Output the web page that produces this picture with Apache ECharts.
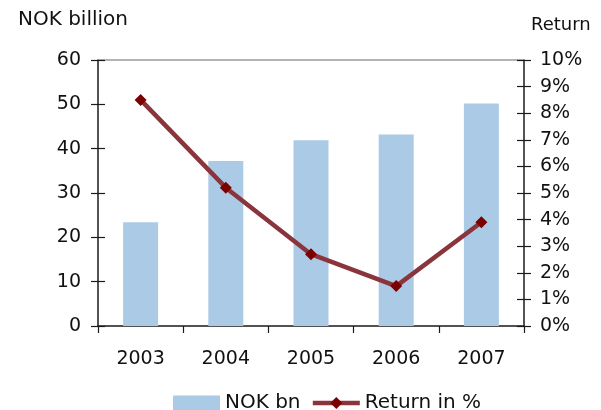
<!DOCTYPE html>
<html>
<head>
<meta charset="utf-8">
<script src="https://cdn.jsdelivr.net/npm/echarts@6/dist/echarts.min.js"></script>
<style>
  html, body { margin: 0; padding: 0; background: #fff; }
  #chart { width: 601px; height: 410px; }
</style>
</head>
<body>
<div id="chart"></div>
<script>
// Annual figures
const years = ['2003', '2004', '2005', '2006', '2007'];
const nokBn = [23.4, 37.2, 41.9, 43.2, 50.2];
const returnPct = [8.5, 5.2, 2.7, 1.5, 3.9];
const leftTicks = { min: 0, max: 60, interval: 10 };
const rightTicks = { min: 0, max: 10, interval: 1 };

const FONT = 'DejaVu Sans';
const TXT = '#111';
const AXIS = '#1a1a1a';
const BAR_COLOR = '#abcae6';
const LINE_COLOR = '#8a343b';
const MARKER_COLOR = '#7d0000';

const chart = echarts.init(document.getElementById('chart'), null, { renderer: 'canvas' });

// Value axis; a second copy with inside ticks gives the crossing tick marks
function valueAxis(pos, ticks, inside, withLabels, fmt) {
  return {
    type: 'value',
    position: pos,
    min: ticks.min, max: ticks.max, interval: ticks.interval,
    axisLine: { show: !inside, onZero: false, lineStyle: { color: AXIS, width: 1.5 } },
    axisTick: { show: true, inside: inside, length: 7, lineStyle: { color: AXIS, width: 1.2 } },
    splitLine: { show: false },
    axisLabel: withLabels ? {
      show: true, margin: pos === 'left' ? 17 : 16,
      fontFamily: FONT, fontSize: 19, color: TXT, formatter: fmt
    } : { show: false }
  };
}

chart.setOption({
  animation: false,
  backgroundColor: '#fff',
  grid: { left: 98, right: 77, top: 60, bottom: 84, containLabel: false },
  graphic: [
    { type: 'text', left: 18, top: 10,
      style: { text: 'NOK billion', fontFamily: FONT, fontSize: 20, fill: TXT } },
    { type: 'text', left: 531, top: 16,
      style: { text: 'Return', fontFamily: FONT, fontSize: 18, fill: TXT } }
  ],
  legend: {
    left: 168, top: 388,
    itemWidth: 47, itemHeight: 15, itemGap: 10,
    textStyle: { fontFamily: FONT, fontSize: 20, color: TXT },
    data: [
      { name: 'NOK bn', icon: 'rect', itemStyle: { color: BAR_COLOR } },
      { name: 'Return in %', lineStyle: { color: LINE_COLOR, width: 4.5 },
        itemStyle: { color: MARKER_COLOR } }
    ]
  },
  xAxis: [
    {
      type: 'category', position: 'bottom', data: years, boundaryGap: true,
      axisLine: { onZero: false, lineStyle: { color: AXIS, width: 1.5 } },
      axisTick: { show: true, alignWithLabel: false, length: 7, lineStyle: { color: AXIS, width: 1.2 } },
      axisLabel: { margin: 24, fontFamily: FONT, fontSize: 19, color: TXT }
    },
    {
      type: 'category', position: 'top', data: years,
      axisLine: { onZero: false, lineStyle: { color: '#9a9a9a', width: 1.5 } },
      axisTick: { show: false }, axisLabel: { show: false }
    }
  ],
  yAxis: [
    valueAxis('left', leftTicks, false, true, '{value}'),
    valueAxis('right', rightTicks, false, true, '{value}%'),
    valueAxis('left', leftTicks, true, false),
    valueAxis('right', rightTicks, true, false)
  ],
  series: [
    {
      name: 'NOK bn', type: 'bar', xAxisIndex: 0, yAxisIndex: 0,
      data: nokBn, barWidth: 35,
      itemStyle: { color: BAR_COLOR }
    },
    {
      name: 'Return in %', type: 'line', xAxisIndex: 0, yAxisIndex: 1,
      data: returnPct,
      symbol: 'diamond', symbolSize: 12,
      lineStyle: { color: LINE_COLOR, width: 4.5 },
      itemStyle: { color: MARKER_COLOR },
      z: 5
    }
  ]
});
</script>
</body>
</html>
